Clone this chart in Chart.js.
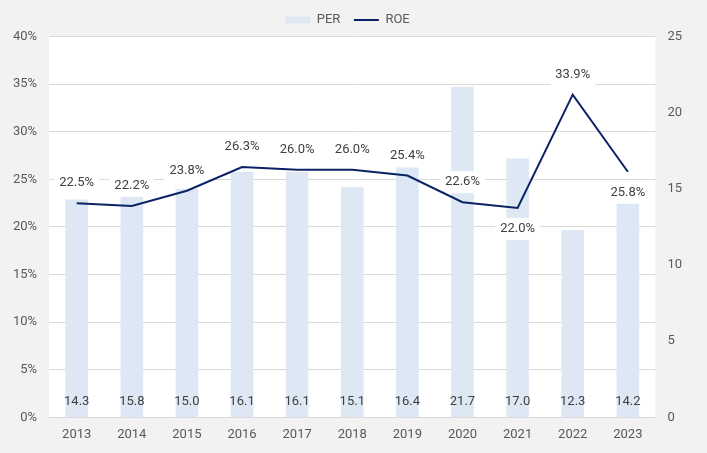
<!DOCTYPE html>
<html>
<head>
<meta charset="utf-8">
<script src="https://cdn.jsdelivr.net/npm/chart.js@4.4.1/dist/chart.umd.min.js"></script>
<style>
  html, body { margin: 0; padding: 0; background: #f2f2f2; overflow: hidden; }
  canvas { display: block; }
</style>
</head>
<body>
<canvas id="myChart" width="707" height="453"></canvas>
<script>
const years = ['2013', '2014', '2015', '2016', '2017', '2018', '2019', '2020', '2021', '2022', '2023'];
const per = [14.3, 15.8, 15.0, 16.1, 16.1, 15.1, 16.4, 21.7, 17.0, 12.3, 14.2];
const roe = [22.5, 22.2, 23.8, 26.3, 26.0, 26.0, 25.4, 22.6, 22.0, 33.9, 25.8];
const roeLabelBelow = [false, false, false, false, false, false, false, false, true, false, true];

const font = 'Roboto, "Noto Sans", sans-serif';
Chart.defaults.font.family = font;
Chart.defaults.font.size = 13;
Chart.defaults.color = '#595959';

// white plot area on grey page
const plotBg = {
  id: 'plotBg',
  beforeDraw(chart) {
    const { ctx, chartArea: a } = chart;
    ctx.save();
    ctx.fillStyle = '#f2f2f2';
    ctx.fillRect(0, 0, chart.width, chart.height);
    ctx.fillStyle = '#ffffff';
    ctx.fillRect(a.left, a.top, a.right - a.left, a.bottom - a.top);
    ctx.restore();
  }
};

// value labels, drawn after the bars and under the ROE line
const valueLabels = {
  id: 'valueLabels',
  afterDatasetDraw(chart, args) {
    if (args.index !== 0) return;
    const ctx = chart.ctx;
    ctx.save();
    ctx.font = '13px ' + font;
    ctx.textAlign = 'center';
    ctx.textBaseline = 'middle';

    chart.getDatasetMeta(0).data.forEach((bar, i) => {
      ctx.fillStyle = '#404040';
      ctx.fillText(per[i].toFixed(1), bar.x, chart.chartArea.bottom - 16);
    });

    chart.getDatasetMeta(1).data.forEach((pt, i) => {
      const txt = roe[i].toFixed(1) + '%';
      const y = roeLabelBelow[i] ? pt.y + 21 : pt.y - 20;
      const w = ctx.measureText(txt).width + 10;
      ctx.fillStyle = '#ffffff';
      ctx.fillRect(pt.x - w / 2, y - 11, w, 22);
      ctx.fillStyle = '#404040';
      ctx.fillText(txt, pt.x, y);
    });
    ctx.restore();
  }
};

new Chart(document.getElementById('myChart'), {
  type: 'bar',
  data: {
    labels: years,
    datasets: [{
      type: 'bar',
      label: 'PER',
      data: per,
      yAxisID: 'y1',
      backgroundColor: '#dde8f4',
      borderWidth: 0,
      categoryPercentage: 1,
      barPercentage: 0.41,
      pointStyle: 'rect',
      order: 2
    }, {
      type: 'line',
      label: 'ROE',
      data: roe,
      yAxisID: 'y',
      borderColor: '#0b2265',
      backgroundColor: '#0b2265',
      borderWidth: 2,
      pointRadius: 0,
      pointStyle: 'line',
      tension: 0,
      order: 1
    }]
  },
  options: {
    responsive: false,
    animation: false,
    layout: { padding: { left: 1, right: 13, top: 0, bottom: 0 } },
    plugins: {
      tooltip: { enabled: false },
      legend: {
        position: 'top',
        labels: {
          usePointStyle: true,
          pointStyleWidth: 25,
          boxHeight: 7,
          padding: 13.5,
          color: '#595959',
          sort: (a, b) => a.datasetIndex - b.datasetIndex
        }
      }
    },
    scales: {
      x: {
        grid: { display: false, drawTicks: false },
        border: { display: false },
        ticks: { padding: 10, color: '#595959' }
      },
      y: {
        position: 'left',
        min: 0,
        max: 40,
        grid: { color: '#d9d9d9', drawTicks: false },
        border: { display: false },
        ticks: {
          stepSize: 5,
          padding: 12,
          color: '#595959',
          callback: v => v + '%'
        }
      },
      y1: {
        position: 'right',
        min: 0,
        max: 25,
        grid: { display: false, drawTicks: false },
        border: { display: false },
        ticks: { stepSize: 5, padding: 12, color: '#595959' }
      }
    }
  },
  plugins: [plotBg, valueLabels]
});
</script>
</body>
</html>
